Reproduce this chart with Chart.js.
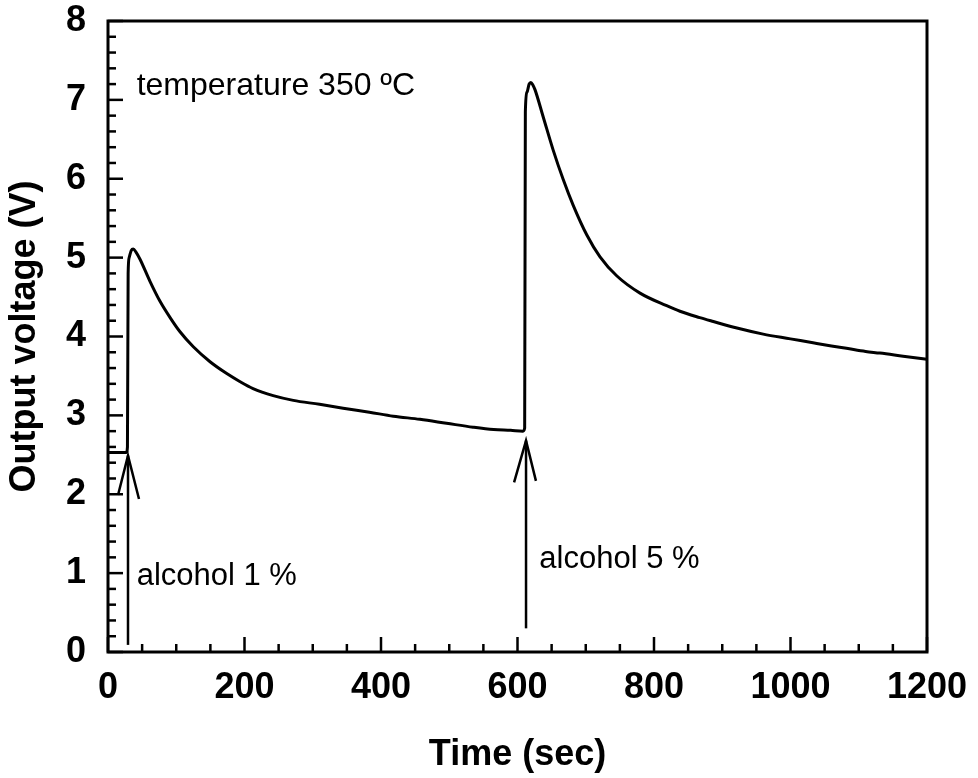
<!DOCTYPE html>
<html>
<head>
<meta charset="utf-8">
<script src="https://cdn.jsdelivr.net/npm/chart.js@4.4.0/dist/chart.umd.min.js"></script>
<style>
  html, body { margin: 0; padding: 0; background: #ffffff; }
  #c { display: block; }
</style>
</head>
<body>
<canvas id="c" width="978" height="778"></canvas>
<script>
// ---- data ----
const timeSec = [0, 27, 28.5, 29.5, 31, 34, 37, 41, 46.9, 61.5, 76, 91, 105.5, 125, 149.5, 174, 193, 212.5, 242, 271.5, 310, 344.5, 383, 418, 457, 496, 535, 565, 590, 608, 610.5, 611.5, 614, 617, 619.5, 622.5, 625.6, 637.8, 652.4, 667, 681.8, 701.4, 720.9, 745.3, 779.5, 818.6, 838, 867, 887, 920, 960, 1000, 1033, 1060, 1082, 1110, 1131, 1165, 1200];
const voltage = [2.53, 2.53, 2.6, 4.8, 5.0, 5.09, 5.11, 5.07, 4.98, 4.70, 4.45, 4.24, 4.06, 3.87, 3.68, 3.53, 3.43, 3.34, 3.25, 3.19, 3.14, 3.09, 3.04, 2.99, 2.95, 2.90, 2.85, 2.82, 2.81, 2.80, 2.84, 6.85, 7.10, 7.20, 7.22, 7.19, 7.13, 6.78, 6.36, 5.99, 5.66, 5.29, 5.01, 4.77, 4.55, 4.39, 4.32, 4.24, 4.19, 4.11, 4.03, 3.97, 3.92, 3.88, 3.85, 3.81, 3.79, 3.75, 3.71];

const xTickLabels = [0, 200, 400, 600, 800, 1000, 1200];
const yTickLabels = [0, 1, 2, 3, 4, 5, 6, 7, 8];

// arrows (time, voltage)
const arrow1ShaftX = [29.3, 29.3];
const arrow1ShaftY = [0.09, 2.49];
const arrow1HeadX = [14.7, 29.3, 45.4];
const arrow1HeadY = [1.99, 2.49, 1.94];
const arrow2ShaftX = [612.5, 612.5];
const arrow2ShaftY = [0.30, 2.68];
const arrow2HeadX = [595, 612.5, 627];
const arrow2HeadY = [2.15, 2.68, 2.17];

const annotations = [
  { text: 'temperature 350 ºC', x: 42, y: 7.06, size: 32 },
  { text: 'alcohol 1 %', x: 42, y: 0.85, size: 31 },
  { text: 'alcohol 5 %', x: 632, y: 1.065, size: 31 }
];

function pts(xs, ys) { return xs.map((x, i) => ({ x: x, y: ys[i] })); }

const FONT = '"Liberation Sans", Arial, Helvetica, sans-serif';

const framePlugin = {
  id: 'frameTicks',
  afterDraw(chart) {
    const ctx = chart.ctx;
    const a = chart.chartArea;
    const xs = chart.scales.x, ys = chart.scales.y;
    ctx.save();
    ctx.strokeStyle = '#000';
    ctx.lineWidth = 3;
    ctx.strokeRect(a.left, a.top, a.right - a.left, a.bottom - a.top);
    ctx.lineWidth = 2.5;
    for (let v = 0; v <= 1200; v += 50) {
      const px = xs.getPixelForValue(v);
      const len = (v % 200 === 0) ? 15 : 8;
      ctx.beginPath();
      ctx.moveTo(px, a.bottom);
      ctx.lineTo(px, a.bottom - len);
      ctx.stroke();
    }
    for (let k = 0; k <= 40; k++) {
      const py = ys.getPixelForValue(k * 0.2);
      const len = (k % 5 === 0) ? 15 : 8;
      ctx.beginPath();
      ctx.moveTo(a.left, py);
      ctx.lineTo(a.left + len, py);
      ctx.stroke();
    }
    ctx.fillStyle = '#000';
    ctx.textBaseline = 'alphabetic';
    ctx.textAlign = 'left';
    annotations.forEach(an => {
      ctx.font = an.size + 'px ' + FONT;
      ctx.fillText(an.text, xs.getPixelForValue(an.x), ys.getPixelForValue(an.y));
    });
    ctx.restore();
  }
};

const lineStyle = { borderColor: '#000', pointRadius: 0, fill: false, tension: 0 };

new Chart(document.getElementById('c'), {
  type: 'line',
  data: {
    datasets: [
      Object.assign({ data: pts(timeSec, voltage), borderWidth: 3, cubicInterpolationMode: 'monotone' }, lineStyle),
      Object.assign({ data: pts(arrow1ShaftX, arrow1ShaftY), borderWidth: 2.5 }, lineStyle),
      Object.assign({ data: pts(arrow1HeadX, arrow1HeadY), borderWidth: 2.5 }, lineStyle),
      Object.assign({ data: pts(arrow2ShaftX, arrow2ShaftY), borderWidth: 2.5 }, lineStyle),
      Object.assign({ data: pts(arrow2HeadX, arrow2HeadY), borderWidth: 2.5 }, lineStyle)
    ]
  },
  options: {
    responsive: false,
    animation: false,
    layout: { padding: { top: 21, right: 51, bottom: 0, left: 0 } },
    plugins: { legend: { display: false }, tooltip: { enabled: false } },
    scales: {
      x: {
        type: 'linear', min: 0, max: 1200,
        afterBuildTicks(s) { s.ticks = xTickLabels.map(v => ({ value: v })); },
        afterFit(s) { s.height = 126; s.paddingLeft = 0; s.paddingRight = 0; },
        grid: { display: false, drawTicks: false },
        border: { display: false },
        ticks: { color: '#000', padding: 14, maxRotation: 0, autoSkip: false,
                 callback: v => String(v),
                 font: { family: FONT, size: 36, weight: 'bold' } },
        title: { display: true, text: 'Time (sec)', color: '#000', padding: { top: 0, bottom: 1 }, font: { family: FONT, size: 36, weight: 'bold' } }
      },
      y: {
        type: 'linear', min: 0, max: 8,
        afterBuildTicks(s) { s.ticks = yTickLabels.map(v => ({ value: v })); },
        afterFit(s) { s.width = 108; s.paddingTop = 0; s.paddingBottom = 0; },
        grid: { display: false, drawTicks: false },
        border: { display: false },
        ticks: { color: '#000', padding: 22, autoSkip: false,
                 callback: v => String(v),
                 font: { family: FONT, size: 36, weight: 'bold' } },
        title: { display: true, text: 'Output voltage (V)', color: '#000', padding: { top: 3, bottom: 0 }, font: { family: FONT, size: 36, weight: 'bold' } }
      }
    }
  },
  plugins: [framePlugin]
});
</script>
</body>
</html>
